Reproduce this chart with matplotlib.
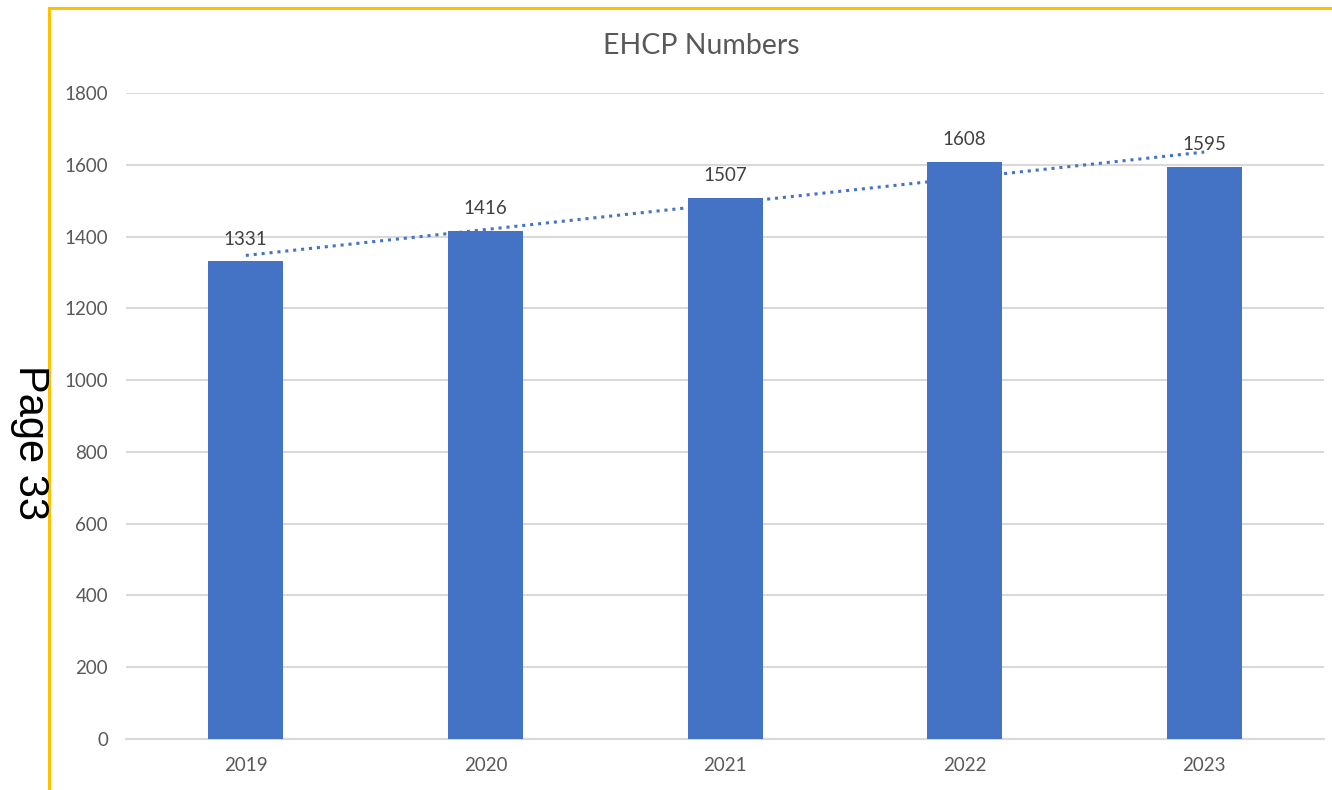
import matplotlib.pyplot as plt
import numpy as np
from matplotlib.lines import Line2D

years = ["2019", "2020", "2021", "2022", "2023"]
ehcp = [1331, 1416, 1507, 1608, 1595]

fig = plt.figure(figsize=(13.32, 7.90), dpi=100)
ax = fig.add_axes([0.0946, 0.0646, 0.8994, 0.8177])

x = np.arange(len(years))
ax.bar(x, ehcp, width=0.313, color="#4472C4", zorder=3)

# linear trendline like Excel
k, b = np.polyfit(x, ehcp, 1)
ax.plot(x, k * x + b, color="#4472C4", linestyle=(0, (1, 1.6)), linewidth=2.2, zorder=4)

for xi, v in zip(x, ehcp):
    ax.text(xi, v + 38, str(v), ha="center", va="bottom", fontsize=13.5,
            color="#404040", family="Lato", zorder=5)

ax.set_xlim(-0.5, len(years) - 0.5)
ax.set_ylim(0, 1800)
ax.set_yticks(range(0, 1801, 200))
ax.set_xticks(x)
ax.set_xticklabels(years)
ax.yaxis.grid(True, color="#D9D9D9", linewidth=1.5, zorder=0)
ax.tick_params(length=0, labelsize=13.5, labelcolor="#595959", pad=13)
ax.tick_params(axis="y", pad=13)
for lab in ax.get_xticklabels() + ax.get_yticklabels():
    lab.set_family("Lato")
for s in ["top", "right", "left"]:
    ax.spines[s].set_visible(False)
ax.spines["bottom"].set_color("#D9D9D9")
ax.spines["bottom"].set_linewidth(1.5)

fig.text(0.5263, 0.9418, "EHCP Numbers", ha="center", va="center", fontsize=20.5,
         color="#595959", family="Lato")

# yellow border on left and top
fig.add_artist(Line2D([0.0368, 0.0368], [0.0, 0.9905], color="#FFC000", linewidth=2.2))
fig.add_artist(Line2D([0.0368, 1.0], [0.9905, 0.9905], color="#FFC000", linewidth=2.2))

fig.text(0.0225, 0.4405, "Page 33", rotation=-90, ha="center", va="center",
         fontsize=30, family="Liberation Sans", color="black")

fig.savefig("out.png", dpi=100)
